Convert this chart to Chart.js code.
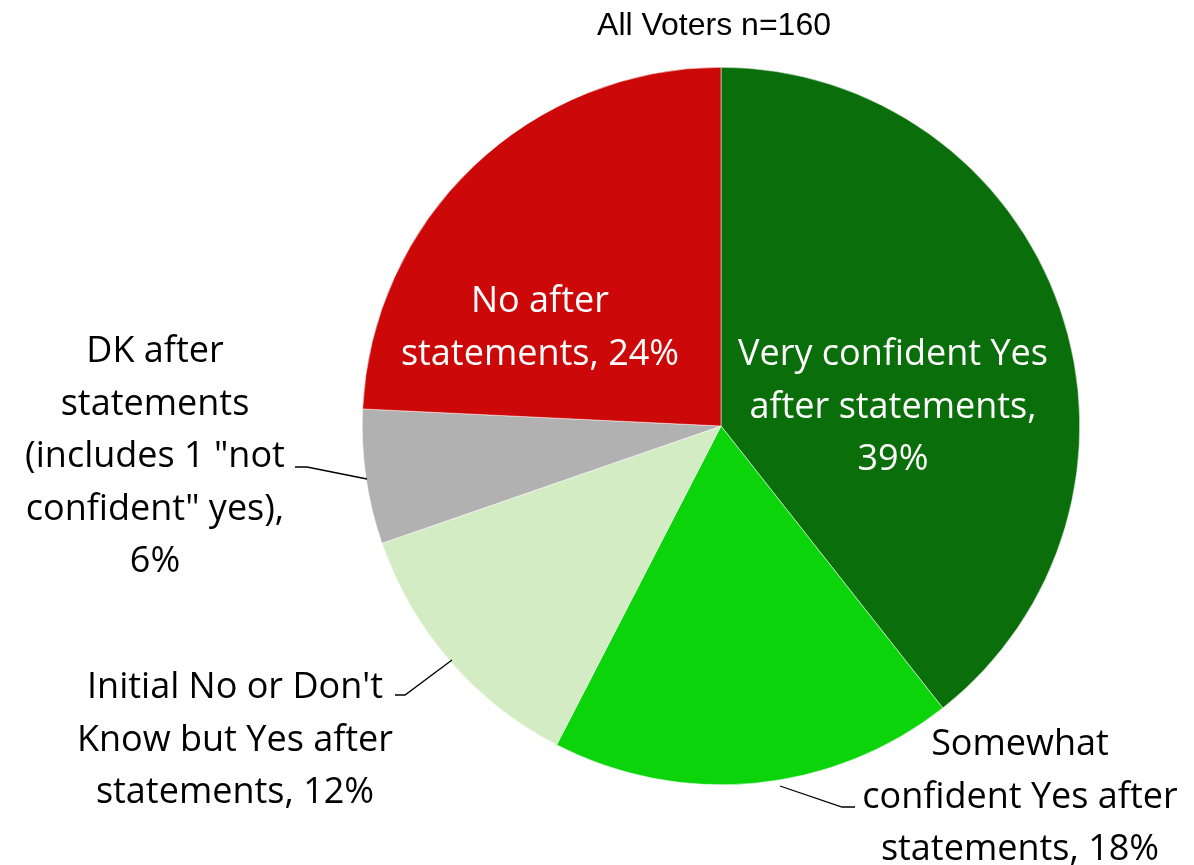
<!DOCTYPE html>
<html>
<head>
<meta charset="utf-8">
<script src="https://cdn.jsdelivr.net/npm/chart.js@4"></script>
<style>
  html, body { margin: 0; padding: 0; background: #fff; }
  #wrap { width: 1194px; height: 865px; position: relative; }
</style>
</head>
<body>
<div id="wrap"><canvas id="pie"></canvas></div>
<script>
const categories = [
  'Very confident Yes after statements',
  'Somewhat confident Yes after statements',
  "Initial No or Don't Know but Yes after statements",
  'DK after statements (includes 1 "not confident" yes)',
  'No after statements'
];
const values = [39, 18, 12, 6, 24];
const colors = ['#0a6f0a', '#0bd40b', '#d3ecc4', '#b1b1b1', '#cc0808'];
const titleText = 'All Voters n=160';

// label lines, offset of first line from pie centre (px), text colour
const labels = [
  { lines: ['Very confident Yes', 'after statements,', '39%'], dx: 172, dy: -71, color: '#fff' },
  { lines: ['Somewhat', 'confident Yes after', 'statements, 18%'], dx: 299, dy: 319, color: '#000',
    leader: [[59, 360], [121, 381], [134, 381]] },
  { lines: ["Initial No or Don't", 'Know but Yes after', 'statements, 12%'], dx: -486, dy: 262, color: '#000',
    leader: [[-269, 234], [-316, 269], [-326, 269]] },
  { lines: ['DK after', 'statements', '(includes 1 "not', 'confident" yes),', '6%'], dx: -566, dy: -74, color: '#000',
    leader: [[-354, 53], [-414, 41], [-426, 41]] },
  { lines: ['No after', 'statements, 24%'], dx: -181, dy: -124, color: '#fff' }
];

const labelPlugin = {
  id: 'labelPlugin',
  afterDraw(chart) {
    const ctx = chart.ctx;
    const arc = chart.getDatasetMeta(0).data[0];
    const cx = arc.x, cy = arc.y;
    ctx.save();
    ctx.textAlign = 'center';
    ctx.textBaseline = 'middle';
    ctx.fillStyle = '#000';
    ctx.font = '32px "Liberation Sans", Arial, sans-serif';
    ctx.fillText(titleText, cx - 7, 26);
    ctx.font = '36px "Open Sans", sans-serif';
    const lh = 52.5;
    labels.forEach(l => {
      const top = cy + l.dy;
      ctx.fillStyle = l.color;
      l.lines.forEach((t, i) => ctx.fillText(t, cx + l.dx, top + i * lh));
      if (l.leader) {
        ctx.strokeStyle = '#000';
        ctx.lineWidth = 1.3;
        ctx.beginPath();
        l.leader.forEach((p, i) => {
          if (i === 0) ctx.moveTo(cx + p[0], cy + p[1]);
          else ctx.lineTo(cx + p[0], cy + p[1]);
        });
        ctx.stroke();
      }
    });
    ctx.restore();
  }
};

new Chart(document.getElementById('pie'), {
  type: 'pie',
  data: {
    labels: categories,
    datasets: [{
      data: values,
      backgroundColor: colors,
      borderColor: '#ffffff',
      borderWidth: 0.5
    }]
  },
  options: {
    responsive: true,
    maintainAspectRatio: false,
    animation: false,
    layout: { padding: { top: 67, bottom: 80, left: 362, right: 114 } },
    plugins: {
      legend: { display: false },
      tooltip: { enabled: false }
    }
  },
  plugins: [labelPlugin]
});
</script>
</body>
</html>
